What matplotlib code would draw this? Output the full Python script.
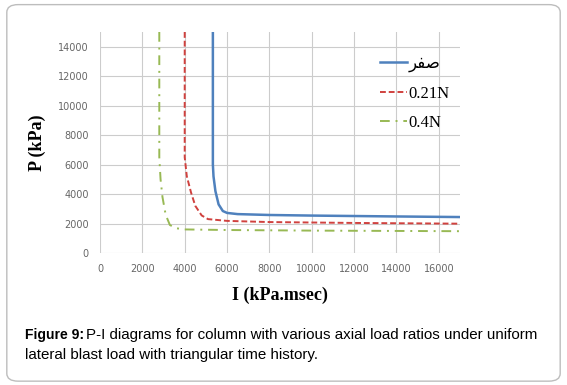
import matplotlib
matplotlib.use('Agg')
import matplotlib.pyplot as plt
from matplotlib.patches import FancyBboxPatch

# series (I in kPa.msec, P in kPa)
zero_I = [5330, 5330, 5360, 5450, 5600, 5800, 6000, 6500, 8000, 10000, 14000, 17000]
zero_P = [15000, 6000, 5200, 4200, 3300, 2850, 2720, 2640, 2580, 2540, 2480, 2440]

n021_I = [4000, 4000, 4100, 4300, 4500, 4800, 5100, 6000, 8000, 12000, 17000]
n021_P = [15000, 6500, 5200, 4100, 3200, 2550, 2300, 2180, 2100, 2040, 1990]

n04_I = [2800, 2800, 2860, 2950, 3100, 3300, 3600, 4000, 6000, 10000, 17000]
n04_P = [15000, 6500, 5000, 3800, 2600, 1900, 1680, 1600, 1560, 1520, 1480]

labels = ['\uFEAE\uFED4\uFEBB', '0.21N', '0.4N']  # "صفر" in shaped glyphs
xticks = list(range(0, 17000, 2000))
yticks = list(range(0, 15000, 2000))

fig = plt.figure(figsize=(5.67, 3.85), dpi=100)
fig.patch.set_facecolor('white')
box = FancyBboxPatch((0.012, 0.01), 0.976, 0.978, boxstyle='round,pad=0,rounding_size=0.02',
                     transform=fig.transFigure, facecolor='none', edgecolor='#bdbdbd', lw=1.0)
fig.patches.append(box)

ax = fig.add_axes([100 / 567, 1 - 253 / 385, 360 / 567, 221 / 385])
ax.set_facecolor('none')
ax.set_zorder(2)

ax.plot(zero_I, zero_P, color='#4f81bd', lw=1.8, label=labels[0])
ax.plot(n021_I, n021_P, color='#d0413e', lw=1.4, ls=(0, (3, 1.5)), label=labels[1])
ax.plot(n04_I, n04_P, color='#98b954', lw=1.4, ls=(0, (5, 3, 1, 3)), label=labels[2])

ax.set_xlim(0, 17000)
ax.set_ylim(0, 15000)
ax.set_xticks(xticks)
ax.set_yticks(yticks)
ax.tick_params(labelsize=7, colors='#666666', length=0, pad=8)
for s in ax.spines.values():
    s.set_visible(False)
ax.grid(True, color='#cccccc', lw=0.8)
ax.set_axisbelow(True)

ax.set_xlabel('I (kPa.msec)', family='Liberation Serif', fontsize=13, fontweight='bold', labelpad=9)
ax.set_ylabel('P (kPa)', family='Liberation Serif', fontsize=13, fontweight='bold', labelpad=9)

leg = ax.legend(loc='upper left', bbox_to_anchor=((380 - 100) / 360, (253 - 56) / 221),
                frameon=False, borderpad=0, borderaxespad=0,
                prop={'family': ['Liberation Serif', 'DejaVu Sans'], 'size': 12},
                handlelength=1.6, handletextpad=0.1, labelspacing=0.8)

fig.text(25 / 567, 1 - 335 / 385, 'Figure 9:', family='Liberation Sans', fontsize=10,
         fontweight='bold', va='center')
fig.text(86 / 567, 1 - 335 / 385, 'P-I diagrams for column with various axial load ratios under uniform',
         family='Liberation Sans', fontsize=10.9, va='center')
fig.text(25 / 567, 1 - 355 / 385, 'lateral blast load with triangular time history.',
         family='Liberation Sans', fontsize=10.9, va='center')

fig.savefig('out.png', dpi=100)
